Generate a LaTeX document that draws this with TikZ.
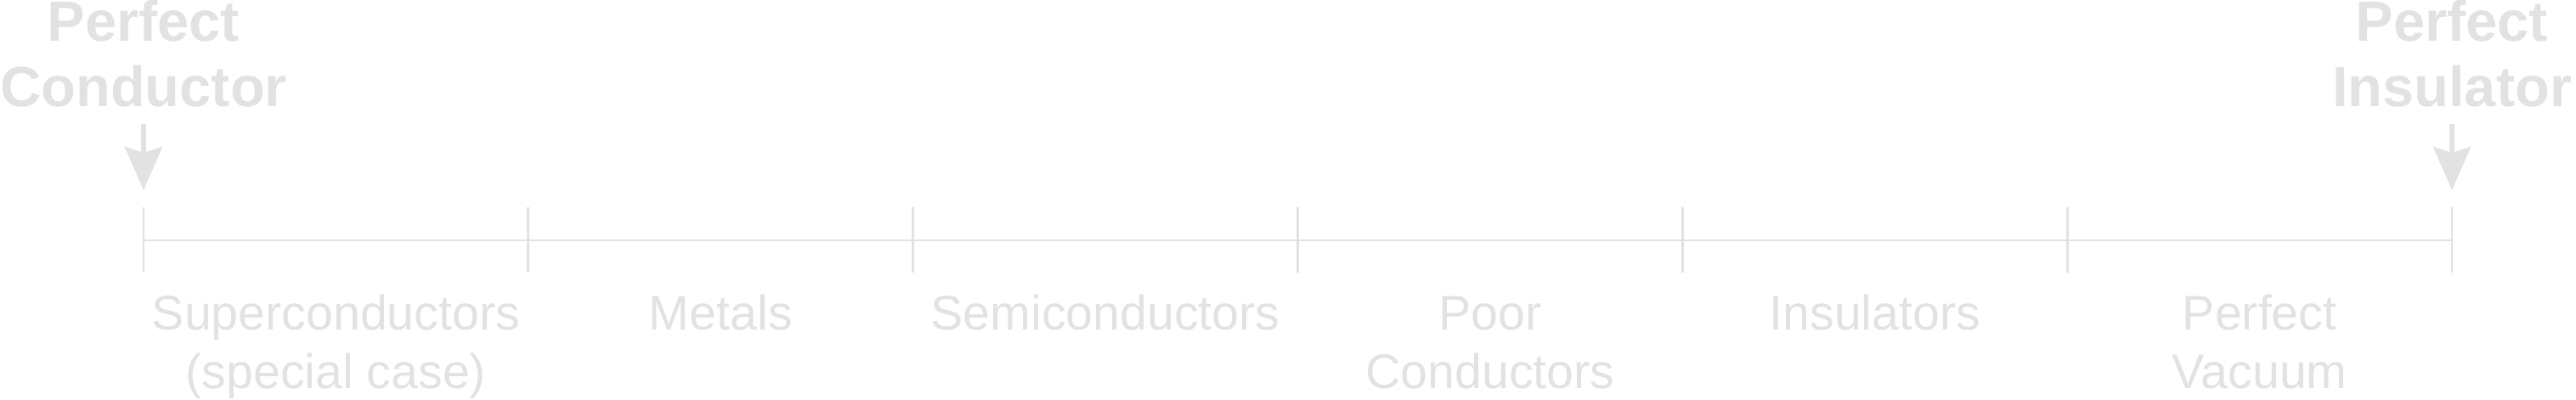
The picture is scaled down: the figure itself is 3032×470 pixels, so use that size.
\documentclass[tikz,border=0pt]{standalone}
\usepackage{fontspec}
\setmainfont{Liberation Sans}
\usetikzlibrary{arrows.meta}
\definecolor{faint}{RGB}{226,226,226}
\tikzset{
  title/.style={font=\bfseries\fontsize{19}{21.9}\selectfont, text=faint, align=center, anchor=south, inner sep=0pt},
  band/.style={font=\fontsize{16.3}{19.5}\selectfont, text=faint, align=center, anchor=base, inner sep=0pt},
  pointer/.style={draw=faint, line width=1.7pt, -{Stealth[length=5.1mm,width=4.4mm,inset=0.7mm]}, shorten <=1.9mm},
  scaleline/.style={draw=faint, line width=0.8pt}
}
\begin{document}
\begin{tikzpicture}[x=0.1mm,y=-0.1mm]
\useasboundingbox (0,0) rectangle (3032,470);
\coordinate (t0) at (169,283);
\coordinate (t1) at (621.8,283);
\coordinate (t2) at (1074.7,283);
\coordinate (t3) at (1527.5,283);
\coordinate (t4) at (1980.3,283);
\coordinate (t5) at (2433.2,283);
\coordinate (t6) at (2886,283);
\draw[scaleline] (t0) -- (t6);
\draw[scaleline] (t0) ++(0,-39) -- ++(0,77);
\draw[scaleline] (t1) ++(0,-39) -- ++(0,77);
\draw[scaleline] (t2) ++(0,-39) -- ++(0,77);
\draw[scaleline] (t3) ++(0,-39) -- ++(0,77);
\draw[scaleline] (t4) ++(0,-39) -- ++(0,77);
\draw[scaleline] (t5) ++(0,-39) -- ++(0,77);
\draw[scaleline] (t6) ++(0,-39) -- ++(0,77);
\node[title] (pc) at (169,127) {Perfect\\Conductor};
\node[title] (pi) at (2886,127) {Perfect\\Insulator};
\coordinate (pca) at (169,224);
\coordinate (pia) at (2886,224);
\draw[pointer] (pc) -- (pca);
\draw[pointer] (pi) -- (pia);
% two-line labels sit on the baseline of their last line
\node[band] (sc) at (395.4,457) {Superconductors\\(special case)};
\node[band] (me) at (848.3,388) {Metals};
\node[band] (se) at (1301.1,388) {Semiconductors};
\node[band] (po) at (1753.9,457) {Poor\\Conductors};
\node[band] (in) at (2206.8,388) {Insulators};
\node[band] (va) at (2659.6,457) {Perfect\\Vacuum};
\end{tikzpicture}
\end{document}
